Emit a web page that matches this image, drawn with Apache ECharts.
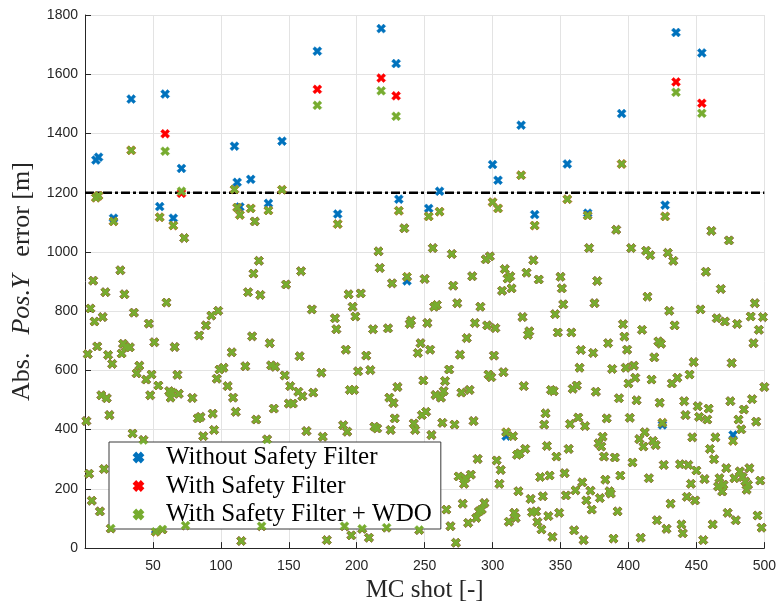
<!DOCTYPE html>
<html>
<head>
<meta charset="utf-8">
<title>Abs. Pos.Y error per MC shot</title>
<script src="https://cdn.jsdelivr.net/npm/echarts@6/dist/echarts.min.js"></script>
<style>
  html, body { margin: 0; padding: 0; background: #fff; }
  #chart { width: 779px; height: 608px; }
</style>
</head>
<body>
<div id="chart"></div>
<script>
// Monte-Carlo shot index
const shots = [
  1,2,3,4,5,6,7,8,9,10,11,12,13,14,15,16,17,18,19,20,
  21,26,27,28,29,30,33,34,35,36,38,40,43,45,47,48,49,51,52,54,
  55,57,59,60,62,63,64,65,66,68,69,71,73,74,79,83,84,85,87,89,
  93,94,95,97,98,99,102,105,108,109,110,111,112,114,115,118,120,122,123,124,
  125,126,128,129,130,134,135,136,137,139,140,145,147,148,150,151,153,157,158,159,
  160,163,167,168,171,174,175,178,184,185,186,190,191,192,193,194,195,196,197,198,
  199,201,203,204,207,209,210,212,213,215,216,217,218,222,223,224,225,226,227,228,
  229,230,231,235,237,239,240,242,243,245,246,247,248,249,250,251,252,253,254,255,
  256,257,258,259,261,262,263,264,265,266,268,269,270,271,272,273,274,275,276,277,
  278,279,280,281,282,283,284,285,286,287,288,289,290,291,292,294,295,296,297,298,
  299,300,301,302,303,304,305,306,307,308,309,310,311,312,313,314,315,316,317,318,
  319,320,321,322,323,324,325,326,327,328,329,330,331,332,333,334,335,336,337,338,
  339,340,341,342,343,344,345,346,347,348,349,350,351,352,353,354,355,356,357,358,
  359,360,361,362,363,364,365,366,367,368,369,370,371,372,373,374,375,376,377,378,
  379,380,381,382,383,384,385,386,387,388,389,390,391,392,393,394,395,396,397,398,
  399,400,401,402,403,404,405,406,408,409,410,411,412,413,414,415,416,417,418,419,
  420,421,422,423,424,425,426,427,428,429,430,431,432,433,434,435,436,438,439,440,
  441,442,443,444,445,446,447,448,449,450,451,452,453,454,455,456,457,458,459,460,
  461,462,463,464,465,466,467,468,469,470,471,472,473,474,475,476,477,478,479,480,
  481,482,483,484,485,486,487,488,489,490,491,492,493,494,495,496,497,498,499,500
];

// Absolute Pos.Y error [m] without safety filter
const errWithout = [
  429,655,251,809,160,903,765,1310,681,1320,124,516,780,267,864,506,652,449,66,622,
  1114,938,657,690,857,679,678,1516,387,795,590,616,365,569,758,516,586,695,62,549,
  1153,63,1533,829,530,508,525,1114,679,585,521,1282,1047,76,507,438,718,443,378,752,
  785,454,399,572,801,603,609,547,661,508,1357,460,1235,1152,24,614,864,1245,715,927,
  1103,434,970,855,74,367,1164,692,617,471,612,1374,583,890,488,547,488,528,648,935,
  513,395,806,525,1678,592,376,27,776,739,1128,415,74,670,393,857,534,43,815,534,
  782,597,860,65,650,35,601,739,410,404,1002,946,1754,69,742,508,399,894,490,438,
  1636,544,1178,1080,902,757,768,421,399,659,61,692,449,566,909,460,760,1147,670,382,
  1013,815,517,821,1205,508,423,530,564,130,603,74,993,886,417,18,827,242,653,525,
  150,217,236,709,85,534,248,918,429,760,102,301,124,815,130,152,975,752,586,985,
  577,1295,650,743,296,1242,217,264,869,594,942,378,910,89,918,877,378,119,102,315,
  192,320,1428,780,547,335,930,720,732,166,121,972,1126,124,88,907,240,63,175,417,
  455,345,108,245,534,38,530,790,309,728,119,916,877,823,253,178,1297,335,419,728,
  538,60,195,549,441,609,669,222,27,412,161,1131,1013,194,130,659,827,528,902,354,
  169,343,376,309,231,438,692,192,184,605,32,306,1075,124,506,245,1467,756,714,609,
  670,556,440,1013,289,616,575,499,368,35,737,343,391,1004,849,236,989,569,362,644,
  348,94,698,491,690,416,281,1158,65,997,801,150,556,970,752,1741,575,283,80,50,
  496,449,173,281,586,217,374,628,161,262,479,443,806,1672,27,233,933,434,471,335,
  1071,80,300,374,776,208,236,875,191,214,765,270,119,1039,496,625,382,236,94,757,
  434,259,401,240,468,225,197,214,270,782,503,692,827,427,110,737,228,69,780,544
];

// Absolute Pos.Y error [m] with safety filter
const errSafety = [
  429,655,251,809,160,903,765,1183,681,1190,124,516,780,267,864,506,652,449,66,622,
  1103,938,657,690,857,679,678,1343,387,795,590,616,365,569,758,516,586,695,55,549,
  1117,63,1399,829,530,508,525,1089,679,585,521,1198,1047,76,507,438,718,443,378,752,
  785,454,399,572,801,603,609,547,661,508,1211,460,1150,1125,24,614,864,1147,715,927,
  1103,434,970,855,74,367,1140,692,617,471,612,1210,583,890,488,547,488,528,648,935,
  513,395,806,525,1549,592,376,27,776,739,1094,415,74,670,393,857,534,43,815,534,
  782,597,860,65,650,35,601,739,410,404,1002,946,1587,69,742,508,399,894,490,438,
  1527,544,1139,1080,916,757,768,421,399,659,61,692,449,566,909,460,760,1120,670,382,
  1013,815,517,821,1136,508,423,530,564,130,603,74,993,886,417,18,827,242,653,525,
  150,217,236,709,85,534,248,918,429,760,102,301,124,815,130,152,975,752,586,985,
  577,1168,650,743,296,1147,217,264,869,594,942,391,910,89,918,877,378,119,102,315,
  192,320,1259,780,547,335,930,720,732,166,121,972,1089,124,88,907,240,63,175,417,
  455,345,108,245,534,38,530,790,309,728,119,916,877,823,253,178,1178,335,419,728,
  538,60,195,549,441,609,669,222,27,412,161,1123,1013,194,130,659,827,528,902,354,
  169,343,376,309,231,438,692,192,184,605,32,306,1075,124,506,245,1297,756,714,609,
  670,556,440,1013,289,616,575,499,368,35,737,343,391,1004,849,236,989,569,362,644,
  348,94,698,491,690,423,281,1120,65,997,801,150,556,970,752,1574,575,283,80,50,
  496,449,173,281,586,217,374,628,161,262,479,443,806,1502,27,233,933,434,471,335,
  1071,80,300,374,776,208,236,875,191,214,765,270,119,1039,496,625,362,236,94,757,
  434,259,401,240,468,225,197,214,270,782,503,692,827,427,110,737,228,69,780,544
];

// Absolute Pos.Y error [m] with safety filter + WDO
const errSafetyWdo = [
  429,655,251,809,160,903,765,1183,681,1190,124,516,780,267,864,506,652,449,66,622,
  1103,938,657,690,857,679,678,1343,387,795,590,616,365,569,758,516,586,695,55,549,
  1117,63,1340,829,530,508,525,1089,679,585,521,1205,1047,76,507,438,718,443,378,752,
  785,454,399,572,801,603,609,547,661,508,1211,460,1150,1125,24,614,864,1147,715,927,
  1103,434,970,855,74,367,1140,692,617,471,612,1210,583,890,488,547,488,528,648,935,
  513,395,806,525,1495,592,376,27,776,739,1094,415,74,670,393,857,534,43,815,534,
  782,597,860,65,650,35,601,739,410,404,1002,946,1544,69,742,508,399,894,490,438,
  1458,544,1139,1080,916,757,768,421,399,659,61,692,449,566,909,460,760,1120,670,382,
  1013,815,517,821,1136,508,423,530,564,130,603,74,993,886,417,18,827,242,653,525,
  150,217,236,709,85,534,248,918,429,760,102,301,124,815,130,152,975,752,586,985,
  577,1168,650,743,296,1147,217,264,869,594,942,391,910,89,918,877,378,119,102,315,
  192,320,1259,780,547,335,930,720,732,166,121,972,1089,124,88,907,240,63,175,417,
  455,345,108,245,534,38,530,790,309,728,119,916,877,823,253,178,1178,335,419,728,
  538,60,195,549,441,609,669,222,27,412,161,1123,1013,194,130,659,827,528,902,354,
  169,343,376,309,231,438,692,192,184,605,32,306,1075,124,506,245,1297,756,714,609,
  670,556,440,1013,289,616,575,499,368,35,737,343,391,1004,849,236,989,569,362,644,
  348,94,698,491,690,423,281,1120,65,997,801,150,556,970,752,1539,575,283,80,50,
  496,449,173,281,586,217,374,628,161,262,479,443,806,1468,27,233,933,434,471,335,
  1071,80,300,374,776,208,236,875,191,214,765,270,119,1039,496,625,362,236,94,757,
  434,259,401,240,468,225,197,214,270,782,503,692,827,427,110,737,228,69,780,544
];

// Safety threshold and axis ticks
const threshold = 1200;
const xTicks = [0, 50, 100, 150, 200, 250, 300, 350, 400, 450, 500];
const yTicks = [0, 200, 400, 600, 800, 1000, 1200, 1400, 1600, 1800];

const seriesNames = ['Without Safety Filter', 'With Safety Filter', 'With Safety Filter + WDO'];
const seriesColors = ['#0072BD', '#FF0000', '#77AC30'];

// bold "x" marker
const crossMark = 'path://M0,2.4L2.4,0L5,2.6L7.6,0L10,2.4L7.4,5L10,7.6L7.6,10L5,7.4L2.4,10L0,7.6L2.6,5Z';

const toPoints = values => shots.map((s, i) => [s, values[i]]);

const axisColor = '#262626';
const gridColor = '#e3e3e3';
const tickFont = { fontFamily: 'Liberation Sans, Arial, sans-serif', fontSize: 14, color: axisColor };
const serif = 'Liberation Serif, Times New Roman, serif';

// solid, fully opaque markers (scatter defaults to 0.8 opacity)
const markerStyle = color => ({ color: color, borderColor: color, borderWidth: 0.5, opacity: 1 });

const chart = echarts.init(document.getElementById('chart'), null, { renderer: 'canvas' });

chart.setOption({
  animation: false,
  backgroundColor: '#ffffff',
  grid: { left: 85, right: 12, top: 15, bottom: 54, containLabel: false },
  xAxis: {
    type: 'value',
    min: xTicks[0],
    max: xTicks[xTicks.length - 1],
    interval: xTicks[1] - xTicks[0],
    name: 'MC shot [-]',
    nameLocation: 'middle',
    nameGap: 24,
    nameTextStyle: { fontFamily: serif, fontSize: 25, color: axisColor },
    axisLine: { show: true, onZero: false, lineStyle: { color: axisColor, width: 1 } },
    axisTick: { show: true, inside: true, length: 6, lineStyle: { color: axisColor } },
    axisLabel: Object.assign({ margin: 11, formatter: v => (v === 0 ? '' : String(v)) }, tickFont),
    splitLine: { show: true, lineStyle: { color: gridColor, width: 1 } }
  },
  yAxis: {
    type: 'value',
    min: yTicks[0],
    max: yTicks[yTicks.length - 1],
    interval: yTicks[1] - yTicks[0],
    name: '{n|Abs.}{i|Pos.Y}{n|error [m]}',
    nameLocation: 'middle',
    nameGap: 50,
    nameTextStyle: {
      rich: {
        n: { fontFamily: serif, fontSize: 26, color: axisColor },
        i: { fontFamily: serif, fontSize: 26, fontStyle: 'italic', color: axisColor, padding: [0, 18, 0, 18] }
      }
    },
    axisLine: { show: true, onZero: false, lineStyle: { color: axisColor, width: 1 } },
    axisTick: { show: true, inside: true, length: 6, lineStyle: { color: axisColor } },
    axisLabel: Object.assign({ margin: 7, formatter: v => String(v) }, tickFont),
    splitLine: { show: true, lineStyle: { color: gridColor, width: 1 } }
  },
  legend: {
    orient: 'vertical',
    left: 109,
    top: 442,
    data: seriesNames.map(n => ({ name: n, icon: crossMark })),
    itemWidth: 9,
    itemHeight: 9,
    itemGap: 3.5,
    padding: [3, 9, 2, 24],
    backgroundColor: '#ffffff',
    borderColor: '#3a3a3a',
    borderWidth: 1,
    borderRadius: 0,
    selectedMode: false,
    textStyle: { fontFamily: serif, fontSize: 25, color: '#000', lineHeight: 25, padding: [0, 0, 0, 18] }
  },
  series: [
    {
      name: 'threshold',
      type: 'line',
      data: [[xTicks[0], threshold], [xTicks[xTicks.length - 1], threshold]],
      symbol: 'none',
      silent: true,
      lineStyle: { color: '#000', width: 2.5, type: [9, 3, 3, 3] },
      z: 1
    },
    {
      name: seriesNames[0],
      type: 'scatter',
      data: toPoints(errWithout),
      symbol: crossMark,
      symbolSize: 9,
      itemStyle: markerStyle(seriesColors[0]),
      z: 2
    },
    {
      name: seriesNames[1],
      type: 'scatter',
      data: toPoints(errSafety),
      symbol: crossMark,
      symbolSize: 9,
      itemStyle: markerStyle(seriesColors[1]),
      z: 3
    },
    {
      name: seriesNames[2],
      type: 'scatter',
      data: toPoints(errSafetyWdo),
      symbol: crossMark,
      symbolSize: 9,
      itemStyle: markerStyle(seriesColors[2]),
      z: 4
    }
  ]
});
</script>
</body>
</html>
